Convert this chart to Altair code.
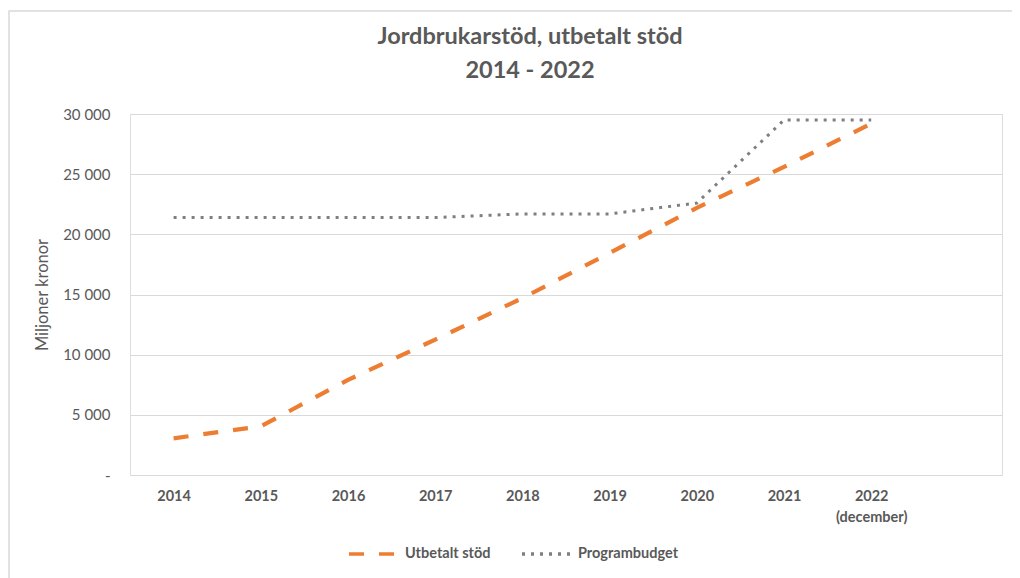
import altair as alt
import pandas as pd

years = [2014, 2015, 2016, 2017, 2018, 2019, 2020, 2021, 2022]
utbetalt = [3050, 4050, 7900, 11250, 14700, 18450, 22200, 25600, 29200]
programbudget = [21400, 21400, 21400, 21400, 21700, 21700, 22600, 29500, 29500]
series_names = ["Utbetalt stöd", "Programbudget"]
series_colors = ["#ED7D31", "#7F7F7F"]
series_dash = [[15, 15], [3, 6]]
y_ticks = [0, 5000, 10000, 15000, 20000, 25000, 30000]

rows = []
for y, a, b in zip(years, utbetalt, programbudget):
    rows.append({"year": y, "value": a, "series": series_names[0]})
    rows.append({"year": y, "value": b, "series": series_names[1]})
df = pd.DataFrame(rows)

W, H = 872, 361
GRAY = "#595959"
FONT = "Lato"

x_enc = alt.X(
    "year:Q",
    scale=alt.Scale(domain=[2013.5, 2023.5], nice=False, zero=False),
    axis=alt.Axis(
        values=years, format="d", grid=False, domain=False, ticks=False,
        labelExpr="datum.value == 2022 ? ['2022', '(december)'] : datum.label",
        labelFont=FONT, labelFontSize=14.5, labelFontWeight="bold", labelColor=GRAY,
        labelPadding=14, labelLineHeight=21, title=None,
    ),
)
y_enc = alt.Y(
    "value:Q",
    scale=alt.Scale(domain=[0, 30000], nice=False),
    axis=alt.Axis(
        values=y_ticks, domain=False, ticks=False,
        labelExpr="datum.value == 0 ? '-' : replace(format(datum.value, ','), ',', ' ')",
        labelFont=FONT, labelFontSize=15, labelColor=GRAY, labelPadding=20,
        gridColor="#d9d9d9", gridWidth=1,
        title="Miljoner kronor", titleFont=FONT, titleFontSize=16.5,
        titleFontWeight="normal", titleColor=GRAY, titlePadding=12,
    ),
)
legend = alt.Legend(
    title=None, orient="none", legendX=217, legendY=413, direction="horizontal",
    symbolType="stroke", symbolSize=2500, symbolStrokeWidth=3.5,
    labelFont=FONT, labelFontSize=14.5, labelFontWeight="bold", labelColor=GRAY,
    labelOffset=4, columnPadding=24,
)
color_enc = alt.Color("series:N", scale=alt.Scale(domain=series_names, range=series_colors), legend=legend)
dash_enc = alt.StrokeDash("series:N", scale=alt.Scale(domain=series_names, range=series_dash), legend=legend)

base = alt.Chart(df).encode(x=x_enc, y=y_enc, color=color_enc, strokeDash=dash_enc)

gray_line = base.transform_filter(alt.datum.series == "Programbudget").mark_line(
    strokeWidth=3, strokeCap="butt"
)
orange_line = base.transform_filter(alt.datum.series == "Utbetalt stöd").mark_line(
    strokeWidth=4.2, strokeCap="butt"
)

frame = alt.Chart(pd.DataFrame({"k": [0]})).mark_rect(
    fillOpacity=0, stroke="#d9d9d9", strokeWidth=1.5
).encode(
    x=alt.value(-121), x2=alt.value(W + 13), y=alt.value(-103), y2=alt.value(H + 110)
)

chart = alt.layer(frame, gray_line, orange_line).properties(
    width=W, height=H,
    autosize=alt.AutoSizeParams(type="none"),
    padding={"left": 122, "top": 106, "right": 10, "bottom": 120},
    title=alt.TitleParams(
        text=["Jordbrukarstöd, utbetalt stöd", "2014 - 2022"],
        anchor="middle", dx=-36, offset=-72, fontSize=23.5, font=FONT,
        fontWeight="bold", color=GRAY, lineHeight=34,
    ),
).configure_view(stroke=None).configure(background="white")

chart.save("out.html", embed_options={"renderer": "svg", "actions": False})
